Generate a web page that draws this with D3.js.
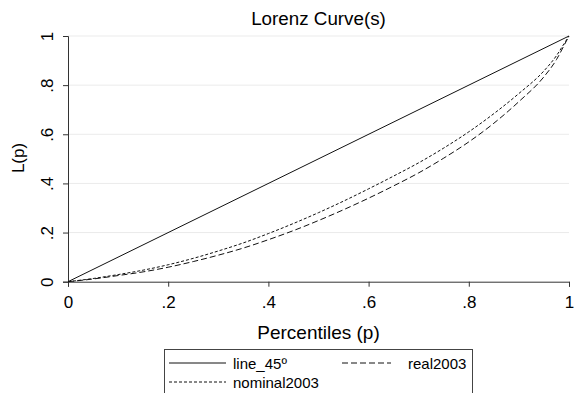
<!DOCTYPE html>
<html><head><meta charset="utf-8">
<script src="https://cdn.jsdelivr.net/npm/d3@7"></script>
<style>body{margin:0;background:#fff}svg{display:block}text{font-family:"Liberation Sans",Arial,sans-serif;fill:#000}</style>
</head><body><svg id="c" width="574" height="393"></svg>
<script>
const percentiles = [0,0.05,0.10,0.15,0.20,0.25,0.30,0.35,0.40,0.45,0.50,0.55,0.60,0.65,0.70,0.75,0.80,0.85,0.90,0.95,0.975,0.99,1];
const line45 = [0,1];
const line45P = [0,1];
const nominal2003 = [0,0.013,0.029,0.047,0.069,0.095,0.125,0.158,0.196,0.237,0.281,0.328,0.378,0.430,0.484,0.544,0.610,0.684,0.766,0.858,0.920,0.968,1];
const real2003 = [0,0.011,0.025,0.040,0.059,0.082,0.108,0.137,0.171,0.208,0.249,0.293,0.340,0.390,0.443,0.503,0.569,0.645,0.733,0.834,0.904,0.961,1];
const xTicks = [0,0.2,0.4,0.6,0.8,1];
const yTicks = [0,0.2,0.4,0.6,0.8,1];
const tickLabel = v => v===0?"0":v===1?"1":String(v).replace(/^0/,"");
const legendItems = [
  {name:"line_45º", dash:null},
  {name:"real2003", dash:"6,3"},
  {name:"nominal2003", dash:"3,2"}
];

const svg = d3.select("#c");
const x = d3.scaleLinear().domain([0,1]).range([68,569]);
const y = d3.scaleLinear().domain([0,1]).range([281.7,36]);

// gridlines
svg.append("g").selectAll("line").data(yTicks.filter(d=>d>0)).join("line")
  .attr("x1",x(0)).attr("x2",x(1)).attr("y1",d=>y(d)).attr("y2",d=>y(d))
  .attr("stroke","#ebebeb").attr("stroke-width",1);

// axes
const xAxis = d3.axisBottom(x).tickValues(xTicks).tickFormat(tickLabel).tickSize(5);
const gx = svg.append("g").attr("transform",`translate(0,${y(0)})`).call(xAxis);
gx.select(".domain").attr("stroke","#333");
gx.selectAll(".tick line").attr("stroke","#333");
gx.selectAll("text").attr("font-size",17).attr("font-family","Liberation Sans, Arial, sans-serif").attr("fill","#000")
  .attr("y",21).attr("dy","0").attr("dominant-baseline","central");

const yAxis = d3.axisLeft(y).tickValues(yTicks).tickFormat(tickLabel).tickSize(5);
const gy = svg.append("g").attr("transform",`translate(${x(0)},0)`).call(yAxis);
gy.select(".domain").attr("stroke","#333");
gy.selectAll(".tick line").attr("stroke","#333");
gy.selectAll("text").attr("font-size",17).attr("font-family","Liberation Sans, Arial, sans-serif").attr("fill","#000")
  .attr("transform","rotate(-90)").attr("x",0).attr("y",-21).attr("dy","0").attr("text-anchor","middle")
  .attr("dominant-baseline","central");

// lines
const lineGen = d3.line().x(d=>x(d[0])).y(d=>y(d[1]));
svg.append("path").datum(line45P.map((p,i)=>[p,line45[i]])).attr("d",lineGen)
  .attr("fill","none").attr("stroke","#111").attr("stroke-width",1);
const curveGen = d3.line().x(d=>x(d[0])).y(d=>y(d[1])).curve(d3.curveMonotoneX);
svg.append("path").datum(percentiles.map((p,i)=>[p,nominal2003[i]])).attr("d",curveGen)
  .attr("fill","none").attr("stroke","#111").attr("stroke-width",1).attr("stroke-dasharray","3,2");
svg.append("path").datum(percentiles.map((p,i)=>[p,real2003[i]])).attr("d",curveGen)
  .attr("fill","none").attr("stroke","#111").attr("stroke-width",1).attr("stroke-dasharray","6,3");

// titles
svg.append("text").attr("x",318.5).attr("y",18).attr("text-anchor","middle").attr("dominant-baseline","central")
  .attr("font-size",18.8).text("Lorenz Curve(s)");
svg.append("text").attr("x",318.5).attr("y",332).attr("text-anchor","middle").attr("dominant-baseline","central")
  .attr("font-size",19).text("Percentiles (p)");
svg.append("text").attr("transform","translate(18,158) rotate(-90)").attr("text-anchor","middle").attr("dominant-baseline","central")
  .attr("font-size",17).text("L(p)");

// legend
const lg = svg.append("g");
lg.append("rect").attr("x",164.5).attr("y",349.5).attr("width",308).attr("height",60)
  .attr("fill","#fff").attr("stroke","#444").attr("stroke-width",1);
const pos = [{lx:169,tx:233,y:363},{lx:342,tx:408,y:363},{lx:169,tx:233,y:382}];
legendItems.forEach((it,i)=>{
  const p = pos[i];
  const len = i===1?49:57;
  lg.append("line").attr("x1",p.lx).attr("x2",p.lx+len).attr("y1",p.y).attr("y2",p.y)
    .attr("stroke","#111").attr("stroke-width",1).attr("stroke-dasharray",it.dash);
  lg.append("text").attr("x",p.tx).attr("y",p.y).attr("dominant-baseline","central").attr("font-size",15).text(it.name);
});
</script></body></html>
